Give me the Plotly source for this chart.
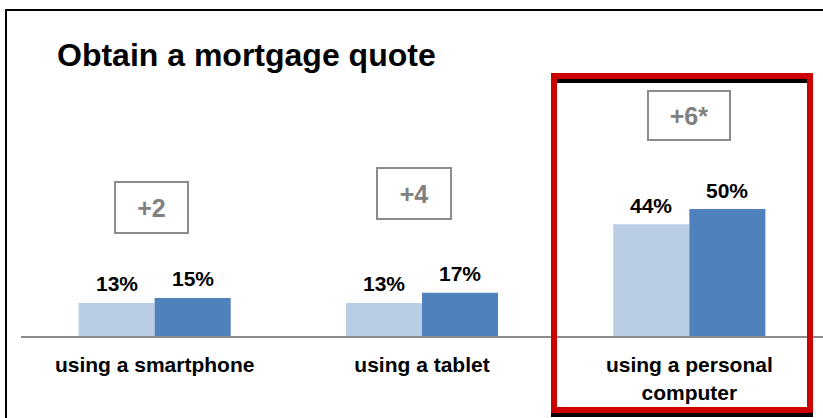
import plotly.graph_objects as go

categories = ["using a smartphone", "using a tablet", "using a personal<br>computer"]
before_vals = [13, 13, 44]
after_vals = [15, 17, 50]
diff_labels = ["+2", "+4", "+6*"]
title_text = "Obtain a mortgage quote"

W, H = 823, 418
L, R, T, B = 21, 0, 0, 82
PX_PER_UNIT = 2.54
ymax = (H - T - B) / PX_PER_UNIT

def px(x):
    return (x - L) / (W - L - R)

def py(y):
    return (H - B - y) / (H - T - B)

FONT = "Liberation Sans, Arial, sans-serif"
LIGHT = "#b9cde5"
DARK = "#4f81bd"

fig = go.Figure()
fig.add_bar(x=categories, y=before_vals, marker=dict(color=LIGHT, line=dict(width=0)), name="before")
fig.add_bar(x=categories, y=after_vals, marker=dict(color=DARK, line=dict(width=0)), name="after")

ann = []
for i, c in enumerate(categories):
    for v, sh in ((before_vals[i], -38), (after_vals[i], 38)):
        ann.append(dict(x=c, y=v, xref="x", yref="y", xshift=sh, yshift=19,
                        text=f"<b>{v}%</b>", showarrow=False, yanchor="middle",
                        font=dict(family=FONT, size=21, color="black")))

# difference boxes (centre pixel positions)
box_pos = [(151.5, 207.5, 71, 49), (414, 193.5, 72, 49), (689, 115, 80, 47)]
for lab, (cx, cy, bw, bh) in zip(diff_labels, box_pos):
    ann.append(dict(x=px(cx), y=py(cy), xref="paper", yref="paper", text=f"<b>{lab}</b>",
                    showarrow=False, xanchor="center", yanchor="middle", width=bw, height=bh,
                    bordercolor="#8c8c8c", borderwidth=2, borderpad=0, bgcolor="white",
                    font=dict(family=FONT, size=25, color="#808080")))

ann.append(dict(x=px(55), y=py(55), xref="paper", yref="paper", text=f"<b>{title_text}</b>",
                showarrow=False, xanchor="left", yanchor="middle",
                font=dict(family=FONT, size=32, color="black")))

shapes = [
    # outer frame
    dict(type="line", xref="paper", yref="paper", x0=px(5), x1=px(823), y0=py(10), y1=py(10),
         line=dict(color="black", width=2)),
    dict(type="line", xref="paper", yref="paper", x0=px(6), x1=px(6), y0=py(9), y1=py(418),
         line=dict(color="black", width=2)),
    # black lines inside highlight
    dict(type="line", xref="paper", yref="paper", x0=px(557), x1=px(807), y0=py(81), y1=py(81),
         line=dict(color="black", width=4)),
    dict(type="line", xref="paper", yref="paper", x0=px(551), x1=px(813), y0=py(415), y1=py(415),
         line=dict(color="black", width=4)),
    # red highlight
    dict(type="rect", xref="paper", yref="paper", x0=px(554), x1=px(810), y0=py(76), y1=py(410),
         line=dict(color="#cc0000", width=6), fillcolor="rgba(0,0,0,0)"),
]

fig.update_layout(
    width=W, height=H,
    margin=dict(l=L, r=R, t=T, b=B, pad=0),
    paper_bgcolor="white", plot_bgcolor="white",
    barmode="group", bargap=0.431, bargroupgap=0,
    showlegend=False,
    annotations=ann,
    shapes=shapes,
    xaxis=dict(showline=True, linecolor="#898989", linewidth=2, showgrid=False, zeroline=False,
               ticks="", tickfont=dict(family=FONT, size=21, color="black"),
               tickprefix="<b>", ticksuffix="</b>", ticklabelstandoff=9),
    yaxis=dict(range=[0, ymax], visible=False, showgrid=False, zeroline=False),
    font=dict(family=FONT),
)

fig.write_html("out.html", config={"displayModeBar": False},
               post_script="document.body.style.margin='0';document.body.style.overflow='hidden';")
